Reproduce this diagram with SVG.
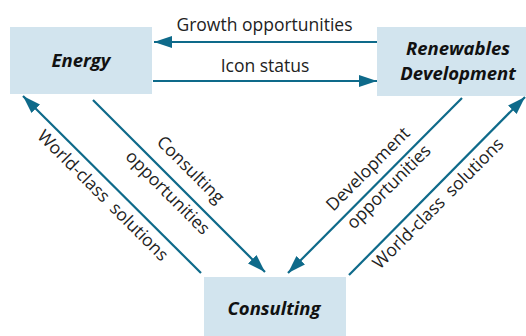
<svg xmlns="http://www.w3.org/2000/svg" width="526" height="336" viewBox="0 0 526 336">
<defs>
<style>
.box{fill:#d2e4ee}
.node{font-family:"Open Sans","Liberation Sans",sans-serif;font-size:18.5px;font-weight:bold;font-style:italic;fill:#111;text-anchor:middle}
.lbl{font-family:"Open Sans","Liberation Sans",sans-serif;font-size:17.5px;fill:#222;text-anchor:middle}
.conn{stroke:#0e6a8a;stroke-width:2.2;fill:none;marker-end:url(#ah)}
</style>
<marker id="ah" markerUnits="userSpaceOnUse" markerWidth="20" markerHeight="14" refX="18" refY="6" orient="auto">
<path d="M0,0 L18,6 L0,12 z" fill="#0e6a8a"/>
</marker>
</defs>
<rect width="526" height="336" fill="#fff"/>
<g id="energy">
<rect class="box" x="10" y="27" width="142" height="67"/>
<text class="node" x="81" y="67">Energy</text>
</g>
<g id="renewables">
<rect class="box" x="377" y="27" width="162" height="69"/>
<text class="node" x="458" y="55">Renewables</text>
<text class="node" x="458" y="80">Development</text>
</g>
<g id="consulting">
<rect class="box" x="204" y="277" width="142" height="68"/>
<text class="node" x="274" y="315">Consulting</text>
</g>
<g id="connectors">
<path class="conn" d="M377,42 L154,42"/>
<path class="conn" d="M153,81 L377,81"/>
<path class="conn" d="M201,273 L23,96"/>
<path class="conn" d="M93,100 L265,272"/>
<path class="conn" d="M462,98 L288,273"/>
<path class="conn" d="M349,275 L525,97"/>
<text class="lbl" x="264.5" y="31">Growth opportunities</text>
<text class="lbl" x="265" y="72">Icon status</text>
<g transform="rotate(45)">
<text class="lbl" x="211" y="71.3" word-spacing="4">World-class solutions</text>
<text class="lbl" x="254.7" y="-9">Consulting</text>
<text class="lbl" x="254.7" y="23.4">opportunities</text>
</g>
<g transform="rotate(-45)">
<text class="lbl" x="140.7" y="385.5">Development</text>
<text class="lbl" x="142.8" y="412.7">opportunities</text>
<text class="lbl" x="166" y="459.5" word-spacing="4">World-class solutions</text>
</g>
</g>
</svg>
